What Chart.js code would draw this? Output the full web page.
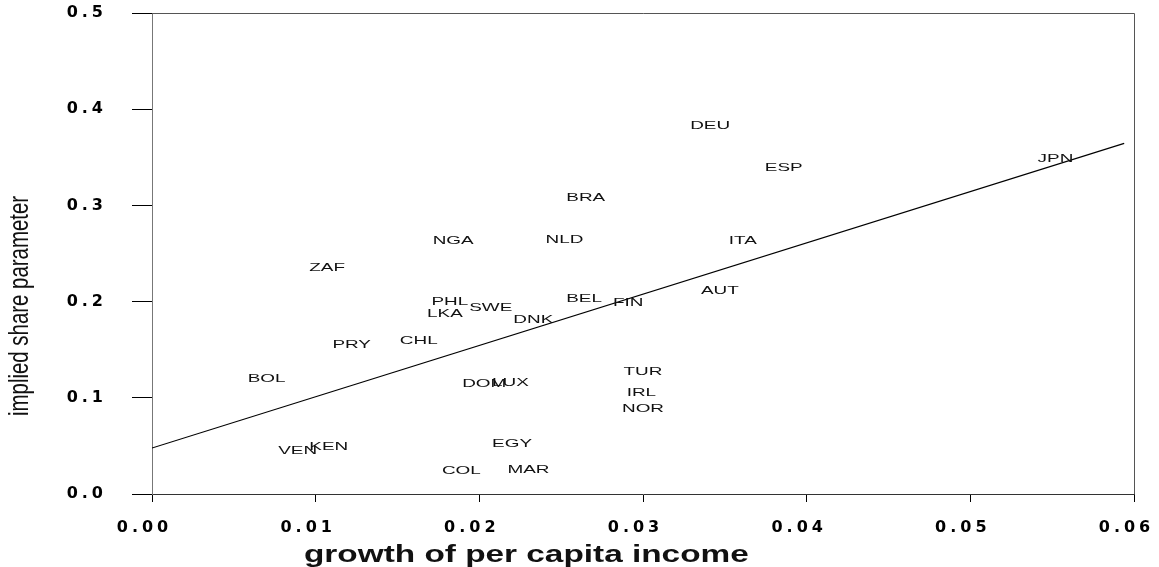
<!DOCTYPE html>
<html>
<head>
<meta charset="utf-8">
<script src="https://cdn.jsdelivr.net/npm/chart.js@4/dist/chart.umd.min.js"></script>
<style>
html,body{margin:0;padding:0;background:#fff;}
#c{display:block;}
</style>
</head>
<body>
<canvas id="c" width="1159" height="567"></canvas>
<script>
// ---- data ----
const countries = ["DEU","ESP","BRA","NGA","NLD","ITA","AUT","PHL","SWE","LKA","DNK","BEL","FIN","CHL","JPN","ZAF","PRY","BOL","VEN","KEN","TUR","IRL","NOR","DOM","LUX","EGY","COL","MAR"];
const growth    = [0.0341,0.0386,0.0265,0.0184,0.0252,0.0361,0.0347,0.0182,0.0207,0.0179,0.0233,0.0264,0.0291,0.0163,0.0552,0.0107,0.0122,0.0070,0.0089,0.0108,0.0300,0.0299,0.0300,0.0203,0.0219,0.0220,0.0189,0.0230];
const share     = [0.383,0.339,0.308,0.263,0.264,0.263,0.211,0.200,0.193,0.187,0.181,0.203,0.199,0.159,0.3485,0.235,0.155,0.120,0.045,0.0486,0.127,0.105,0.088,0.114,0.115,0.052,0.024,0.025];
const fitX = [0.0, 0.0594];
const fitY = [0.0478, 0.3645];
const xTicks = ["0.00","0.01","0.02","0.03","0.04","0.05","0.06"];
const yTicks = ["0.0","0.1","0.2","0.3","0.4","0.5"];
const xTitle = "growth of per capita income";
const yTitle = "implied share parameter";

const pts = countries.map((c,i)=>({x:growth[i], y:share[i], label:c}));
const fitPts = fitX.map((x,i)=>({x:x, y:fitY[i]}));

const textPlugin = {
  id:'textPlugin',
  beforeDraw(chart){ chart.ctx.letterSpacing = '4px'; },
  afterDatasetsDraw(chart){
    const ctx = chart.ctx;
    const meta = chart.getDatasetMeta(0);
    ctx.save();
    ctx.letterSpacing = '0px';
    ctx.fillStyle = '#111';
    ctx.font = '11px "Liberation Sans", Arial, sans-serif';
    ctx.textAlign = 'center';
    ctx.textBaseline = 'middle';
    meta.data.forEach((el,i)=>{
      ctx.save();
      ctx.translate(el.x, el.y);
      ctx.scale(1.72,1);
      ctx.fillText(countries[i], 0, 0);
      ctx.restore();
    });
    ctx.restore();
  },
  afterDraw(chart){
    const ctx = chart.ctx;
    const a = chart.chartArea;
    ctx.save();
    ctx.letterSpacing = '0px';
    // top and right frame
    ctx.strokeStyle = '#555';
    ctx.lineWidth = 1;
    ctx.beginPath();
    ctx.moveTo(a.left, a.top + 0.5);
    ctx.lineTo(a.right + 0.5, a.top + 0.5);
    ctx.lineTo(a.right + 0.5, a.bottom);
    ctx.stroke();
    // x title
    ctx.fillStyle = '#111';
    ctx.font = 'bold 23px "Liberation Sans", Arial, sans-serif';
    ctx.textAlign = 'left';
    ctx.textBaseline = 'alphabetic';
    ctx.save();
    ctx.translate(304, 562);
    ctx.scale(1.45, 1);
    ctx.fillText(xTitle, 0, 0);
    ctx.restore();
    // y title
    ctx.font = '27px "Liberation Sans", Arial, sans-serif';
    ctx.save();
    ctx.translate(27.8, 416);
    ctx.rotate(-Math.PI/2);
    ctx.scale(0.756, 1);
    ctx.fillText(yTitle, 0, 0);
    ctx.restore();
    ctx.restore();
    ctx.letterSpacing = '0px';
  }
};

new Chart(document.getElementById('c'), {
  type:'scatter',
  data:{
    datasets:[
      {data:pts, pointRadius:0, pointHoverRadius:0, showLine:false},
      {data:fitPts, showLine:true, pointRadius:0, borderColor:'#000', borderWidth:1.2, fill:false}
    ]
  },
  options:{
    responsive:false,
    animation:false,
    events:[],
    layout:{padding:{left:0,right:25,top:13,bottom:0}},
    plugins:{legend:{display:false}, tooltip:{enabled:false}},
    scales:{
      x:{
        type:'linear', min:0, max:0.06,
        afterBuildTicks(s){ s.ticks = xTicks.map(v=>({value:parseFloat(v)})); },
        afterFit(s){ s.height = 73; s.paddingLeft = 0; s.paddingRight = 0; },
        ticks:{
          autoSkip:false, maxRotation:0, padding:16, labelOffset:-7.5,
          color:'#000',
          font:{family:'"DejaVu Sans", sans-serif', size:16, weight:'bold'},
          callback:(v,i)=>xTicks[i]
        },
        grid:{drawOnChartArea:false, drawTicks:true, tickLength:8, color:'#000', lineWidth:1},
        border:{display:true, color:'#333', width:1}
      },
      y:{
        type:'linear', min:0, max:0.5,
        afterBuildTicks(s){ s.ticks = yTicks.map(v=>({value:parseFloat(v)})); },
        afterFit(s){ s.width = 152; s.paddingTop = 0; s.paddingBottom = 0; },
        ticks:{
          autoSkip:false, padding:25,
          color:'#000',
          font:{family:'"DejaVu Sans", sans-serif', size:16, weight:'bold'},
          callback:(v,i)=>yTicks[i]
        },
        grid:{drawOnChartArea:false, drawTicks:true, tickLength:20, color:'#000', lineWidth:1},
        border:{display:true, color:'#777', width:1}
      }
    }
  },
  plugins:[textPlugin]
});
</script>
</body>
</html>
